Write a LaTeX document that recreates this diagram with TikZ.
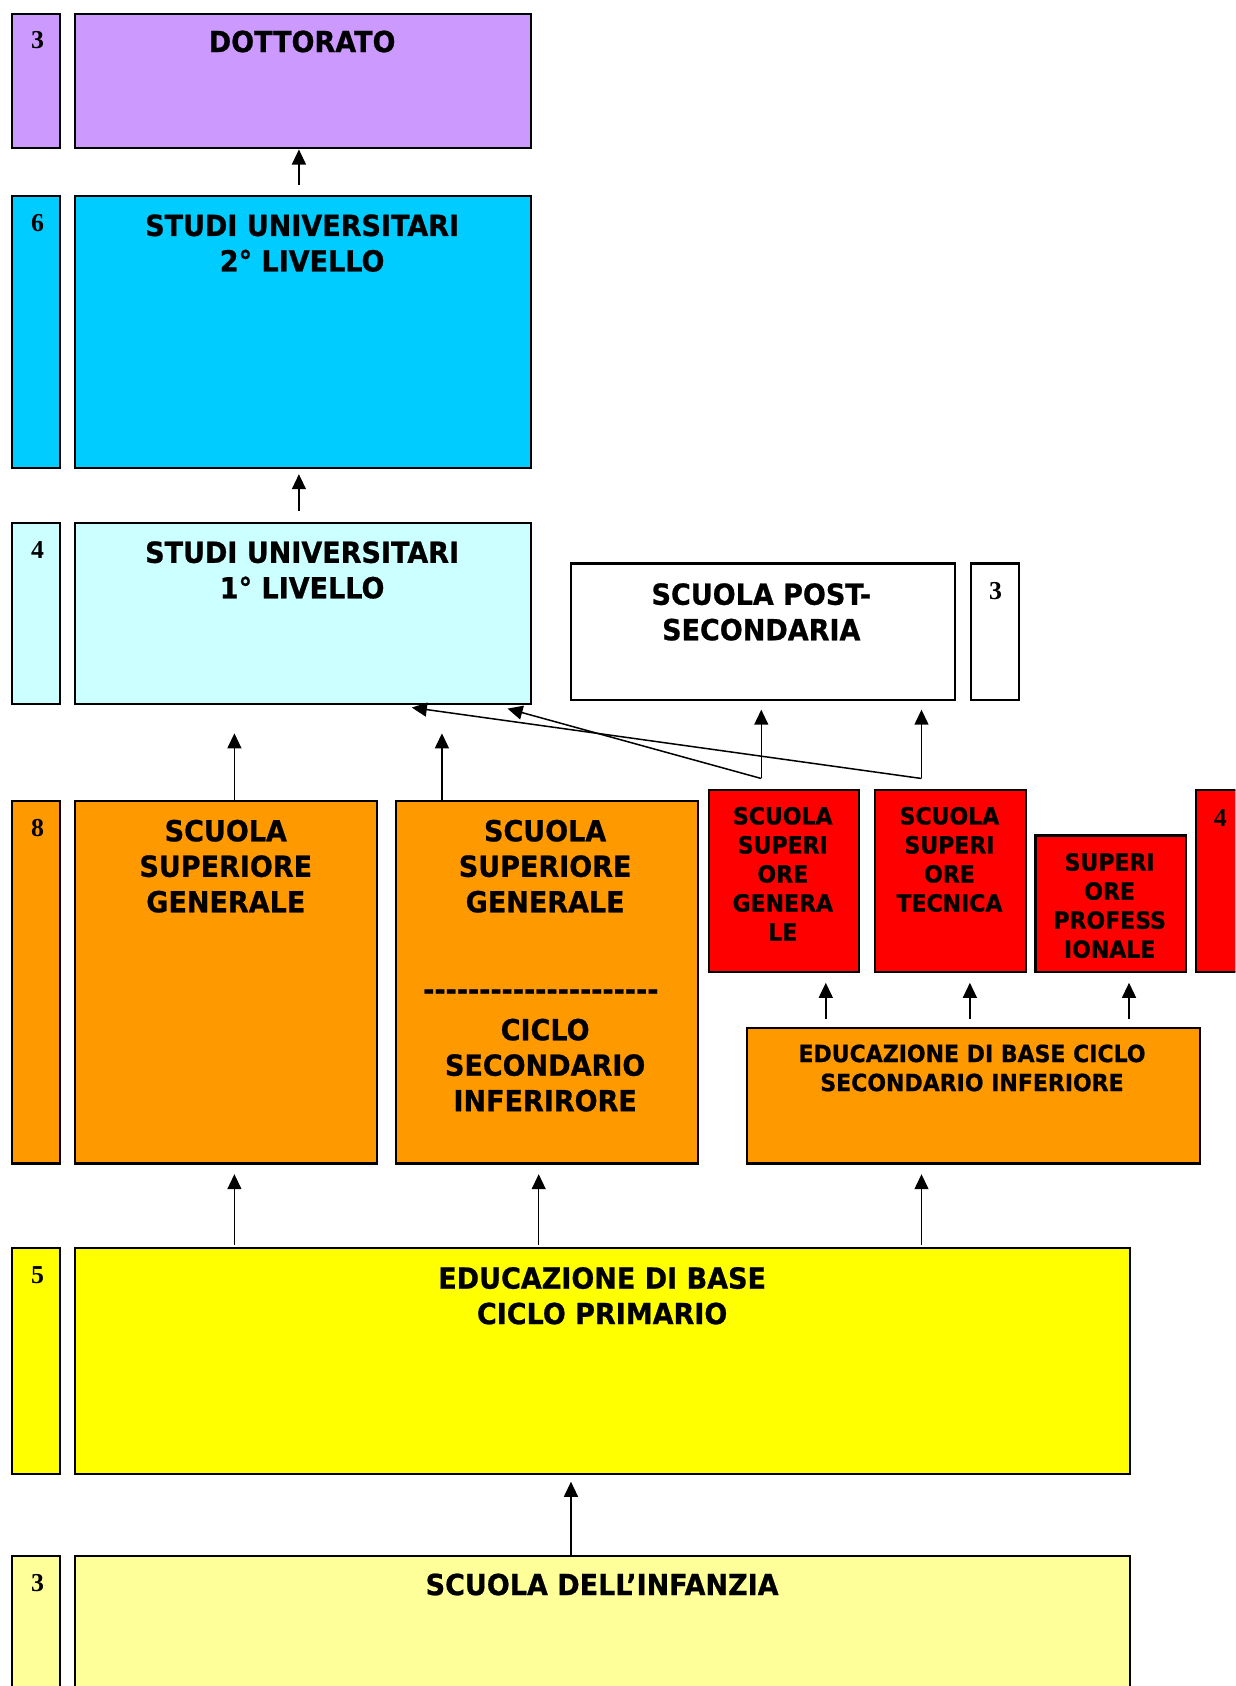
\documentclass[tikz,border=0pt]{standalone}
\usepackage{fontspec}
\usetikzlibrary{arrows.meta}
\newfontfamily\tah[FakeStretch=0.93,BoldFeatures={FakeBold=0.8}]{DejaVu Sans}
\newfontfamily\tms{Liberation Serif}
\definecolor{purp}{HTML}{CC99FF}
\definecolor{cyanA}{HTML}{00CCFF}
\definecolor{cyanB}{HTML}{CCFFFF}
\definecolor{orng}{HTML}{FF9900}
\definecolor{redA}{HTML}{FF0000}
\definecolor{yelA}{HTML}{FFFF00}
\definecolor{yelB}{HTML}{FFFF99}
\tikzset{
  box/.style={draw=black, line width=1pt, rectangle, inner sep=0pt, anchor=north west},
  big/.style={font=\tah\bfseries\fontsize{13.5}{16.5}\selectfont, align=center, anchor=north, inner sep=0pt},
  small/.style={font=\tah\bfseries\fontsize{11}{13.5}\selectfont, align=center, anchor=north, inner sep=0pt},
  num/.style={font=\tms\bfseries\fontsize{12}{14}\selectfont, anchor=north, inner sep=0pt},
  arr/.style={-{Triangle[length=7pt,width=6.5pt]}, line width=0.7pt}
}
\newcommand\bx[6]{\node[box,fill=#6,minimum width={(#4-#2)*0.5pt},minimum height={(#5-#3)*0.5pt}] (#1) at (#2,#3) {};}
\begin{document}
\begin{tikzpicture}[x=0.5pt,y=-0.5pt]
\clip (0,0) rectangle (1149,1568);
\fill[white] (0,0) rectangle (1149,1568);
% boxes
\bx{l1}{10}{12}{55}{137}{purp}
\bx{dott}{69}{12}{493}{137}{purp}
\bx{l2}{10}{181}{55}{434}{cyanA}
\bx{stu2}{69}{181}{493}{434}{cyanA}
\bx{l3}{10}{485}{55}{654}{cyanB}
\bx{stu1}{69}{485}{493}{654}{cyanB}
\bx{post}{530}{523}{887}{650}{white}
\bx{lpost}{902}{523}{947}{650}{white}
\bx{l4}{10}{744}{55}{1081}{orng}
\bx{ssgA}{69}{744}{350}{1081}{orng}
\bx{ssgB}{367}{744}{648}{1081}{orng}
\bx{r1}{658}{734}{798}{903}{redA}
\bx{r2}{813}{734}{953}{903}{redA}
\bx{r3}{962}{776}{1102}{903}{redA}
\bx{lr}{1111}{734}{1170}{903}{redA}
\bx{edu2}{694}{955}{1115}{1081}{orng}
\bx{l5}{10}{1160}{55}{1370}{yelA}
\bx{prim}{69}{1160}{1050}{1370}{yelA}
\bx{l6}{10}{1446}{55}{1600}{yelB}
\bx{inf}{69}{1446}{1050}{1600}{yelB}
% numbers
\node[num] (n1) at (35,29) {3};
\node[num] (n2) at (35,199) {6};
\node[num] (n3) at (35,503) {4};
\node[num] (n4) at (35,762) {8};
\node[num] (n5) at (35,1178) {5};
\node[num] (n6) at (35,1464) {3};
\node[num] (n7) at (926,541) {3};
\node[num] (n8) at (1135,752) {4};
% texts
\node[big] (t1) at (281,28) {DOTTORATO};
\node[big] (t2) at (281,199) {STUDI UNIVERSITARI\\2° LIVELLO};
\node[big] (t3) at (281,503) {STUDI UNIVERSITARI\\1° LIVELLO};
\node[big] (t4) at (708,542) {SCUOLA POST-\\SECONDARIA};
\node[big] (t5) at (210,762) {SCUOLA\\SUPERIORE\\GENERALE};
\node[big] (t6) at (507,762) {SCUOLA\\SUPERIORE\\GENERALE};
\node[big,anchor=center] (t6d) at (503,925) {-{}-{}-{}-{}-{}-{}-{}-{}-{}-{}-{}-{}-{}-{}-{}-{}-{}-{}-{}-{}-};
\node[big] (t6b) at (507,947) {CICLO\\SECONDARIO\\INFERIRORE};
\node[small] (t7) at (728,750) {SCUOLA\\SUPERI\\ORE\\GENERA\\LE};
\node[small] (t8) at (883,750) {SCUOLA\\SUPERI\\ORE\\TECNICA};
\node[small] (t9) at (1032,793) {SUPERI\\ORE\\PROFESS\\IONALE};
\node[small] (t10) at (904,971) {EDUCAZIONE DI BASE CICLO\\SECONDARIO INFERIORE};
\node[big] (t11) at (560,1178) {EDUCAZIONE DI BASE\\CICLO PRIMARIO};
\node[big] (t12) at (560,1463) {SCUOLA DELL’INFANZIA};
% connector helper coordinates
\coordinate (x278) at (278,0);
\coordinate (x218) at (218,0);
\coordinate (x411) at (411,0);
\coordinate (x768) at (768,0);
\coordinate (x902) at (902,0);
\coordinate (x1050) at (1050,0);
\coordinate (x501) at (501,0);
\coordinate (x857) at (857,0);
\coordinate (x531) at (531,0);
\coordinate (j1) at (708,724);
\coordinate (j2) at (857,724);
\coordinate (e1) at (472,659);
\coordinate (e2) at (383,658);
% connectors
\draw[arr,shorten <=4.5pt] (x278 |- stu2.north) -- (x278 |- dott.south);
\draw[arr,shorten <=5pt,shorten >=2.5pt] (x278 |- stu1.north) -- (x278 |- stu2.south);
\draw[arr,shorten >=13pt] (x218 |- ssgA.north) -- (x218 |- stu1.south);
\draw[arr,shorten >=13pt] (x411 |- ssgB.north) -- (x411 |- stu1.south);
\draw[arr,shorten >=4pt] (j1) -- (j1 |- post.south);
\draw[arr,shorten >=4pt] (j2) -- (j2 |- post.south);
\draw[arr] (j1) -- (e1);
\draw[arr] (j2) -- (e2);
\draw[arr,shorten <=3.5pt,shorten >=4.5pt] (x768 |- edu2.north) -- (x768 |- r1.south);
\draw[arr,shorten <=3.5pt,shorten >=4.5pt] (x902 |- edu2.north) -- (x902 |- r2.south);
\draw[arr,shorten <=3.5pt,shorten >=4.5pt] (x1050 |- edu2.north) -- (x1050 |- r3.south);
\draw[arr,shorten <=1pt,shorten >=4.5pt] (x218 |- prim.north) -- (x218 |- ssgA.south);
\draw[arr,shorten <=1pt,shorten >=4.5pt] (x501 |- prim.north) -- (x501 |- ssgB.south);
\draw[arr,shorten <=1pt,shorten >=4.5pt] (x857 |- prim.north) -- (x857 |- edu2.south);
\draw[arr,shorten >=3pt] (x531 |- inf.north) -- (x531 |- prim.south);
\end{tikzpicture}
\end{document}
